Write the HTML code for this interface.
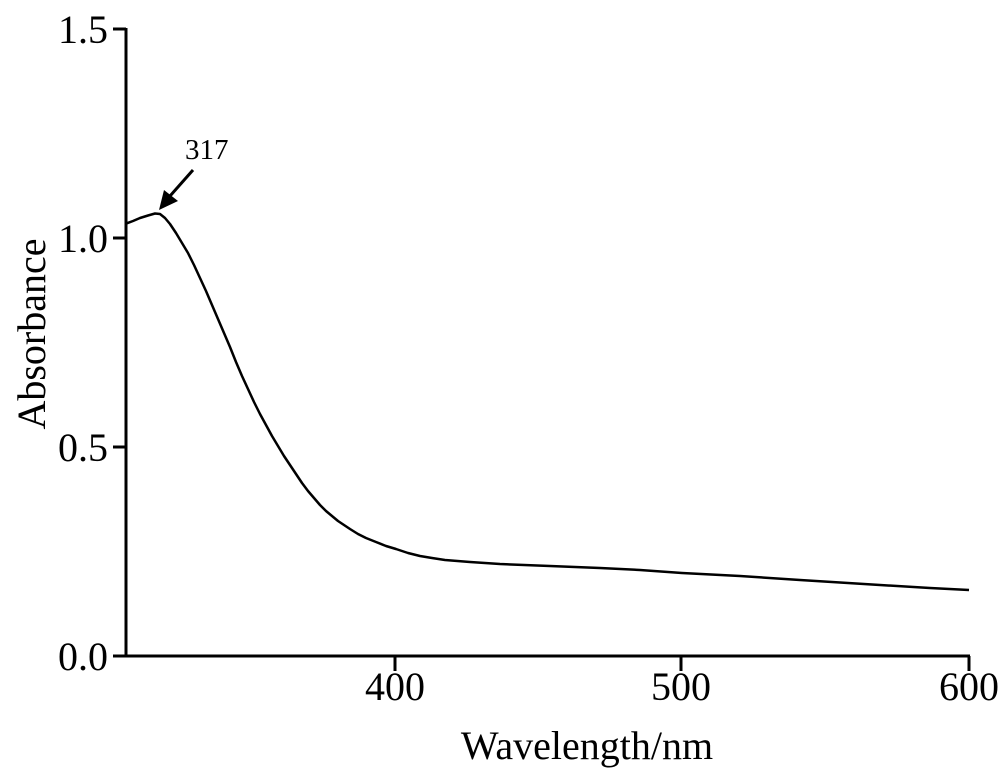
<!DOCTYPE html>
<html><head><meta charset="utf-8"><style>
html,body{margin:0;padding:0;background:#fff;}
svg{display:block;}
text{font-family:"Liberation Serif",serif;fill:#000;}
</style></head><body>
<svg width="1000" height="771" viewBox="0 0 1000 771" xmlns="http://www.w3.org/2000/svg">
<g stroke="#000" stroke-width="3" fill="none">
<line x1="126" y1="28" x2="126" y2="657"/>
<line x1="124" y1="656" x2="970" y2="656"/>
<line x1="113" y1="29" x2="126" y2="29"/>
<line x1="113" y1="238" x2="126" y2="238"/>
<line x1="113" y1="447" x2="126" y2="447"/>
<line x1="113" y1="656" x2="126" y2="656"/>
<line x1="395" y1="656" x2="395" y2="671"/>
<line x1="681" y1="656" x2="681" y2="671"/>
<line x1="969" y1="656" x2="969" y2="671"/>
<polyline stroke-width="2.5" stroke-linejoin="round" points="125,224 133,221 140,218 148,215.5 155,213.5 160,214 165,218 170,224 176,233 182,243 188,253 194,265 200,278 206,291 212,305 218,319 224,333 230,347 236,362 242,376 248,389 254,402 260,414 266,425 272,436 278,446 284,456 290,465 296,474 302,483 308,491 314,498 320,505 326,511 332,516 338,521 344,525 350,529 358,534 366,538 376,542 386,546 396,549 408,553 420,556 432,558 445,560 470,562 500,564 550,566 600,568 640,570 682,573 740,576 800,580 880,585 930,588 969,590"/>
<line x1="193" y1="170" x2="170" y2="196" stroke-width="3"/>
</g>
<polygon points="159,210 164,190 178,201" fill="#000"/>
<text x="185" y="159" font-size="29">317</text>
<g font-size="40" text-anchor="end">
<text x="108" y="43">1.5</text>
<text x="108" y="252">1.0</text>
<text x="108" y="461">0.5</text>
<text x="108" y="670">0.0</text>
</g>
<g font-size="40" text-anchor="middle">
<text x="395" y="700">400</text>
<text x="681" y="700">500</text>
<text x="969" y="700">600</text>
<text x="587" y="759">Wavelength/nm</text>
<text transform="translate(45,334) rotate(-90)">Absorbance</text>
</g>
</svg>
</body></html>
